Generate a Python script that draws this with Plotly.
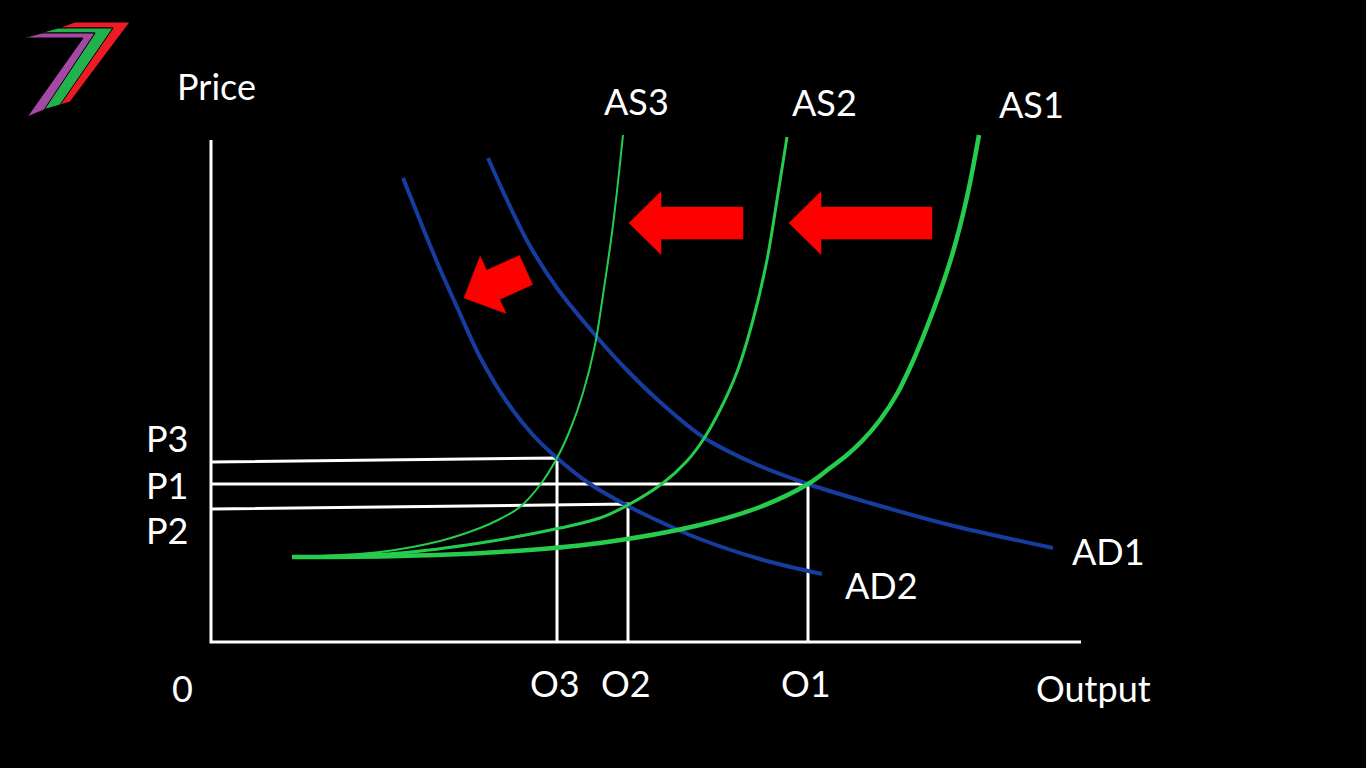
import plotly.graph_objects as go
import math

# ---------------- data (output units, price units) ----------------
as1_x = [8.1, 18.9, 28.9, 38.9, 48.9, 54.9, 59.7, 61.9, 63.6, 65.2, 66.9, 68.6, 70.2, 71.6, 72.9, 74.2, 75.6, 76.8]
as1_y = [8.5, 8.6, 9.0, 9.9, 11.7, 13.5, 15.8, 17.4, 18.7, 20.2, 22.2, 24.8, 28.1, 31.5, 35.0, 39.0, 44.5, 50.7]

as2_x = [8.1, 18.9, 26.9, 34.9, 38.9, 41.7, 45.2, 47.6, 49.2, 50.9, 52.6, 54.2, 55.6, 56.6, 57.6]
as2_y = [8.5, 8.9, 9.9, 11.4, 12.4, 13.7, 15.9, 18.1, 20.2, 23.2, 27.0, 32.2, 38.2, 44.2, 50.5]

as3_x = [8.1, 16.9, 22.9, 26.9, 28.9, 30.9, 32.9, 34.6, 35.9, 37.2, 38.4, 39.2, 40.2, 41.2]
as3_y = [8.5, 9.0, 10.1, 11.4, 12.3, 13.5, 15.7, 18.4, 21.2, 24.9, 29.7, 34.7, 41.7, 50.7]

ad1_x = [27.7, 29.6, 31.9, 34.6, 37.9, 41.2, 44.9, 49.2, 54.2, 59.7, 65.9, 73.9, 84.2]
ad1_y = [48.4, 44.2, 39.6, 35.4, 31.3, 27.6, 24.0, 20.5, 17.9, 15.8, 13.9, 11.7, 9.4]

ad2_x = [19.2, 21.2, 22.9, 24.6, 26.9, 29.6, 32.2, 34.6, 37.9, 41.7, 43.9, 48.9, 54.9, 61.1]
ad2_y = [46.4, 41.4, 37.3, 33.5, 28.5, 24.0, 20.7, 18.4, 15.8, 13.6, 12.5, 10.3, 8.3, 6.8]

# equilibria: output, price at the curve, price where the guide meets the price axis
eq_output = [34.6, 41.7, 59.7]
eq_price = [18.4, 13.8, 15.8]
eq_price_axis = [18.0, 13.3, 15.8]
eq_output_labels = ["O3", "O2", "O1"]
eq_price_labels = ["P3", "P2", "P1"]

axis_x_max = 87.0
axis_y_max = 50.2

# shift arrows: (tail x, tail y, tip x, tip y)
arrows = [
    (72.1, 41.9, 57.8, 41.9),
    (53.2, 41.9, 41.8, 41.9),
    (31.5, 37.2, 25.3, 34.4),
]

# ---------------- styling ----------------
GREEN = "#26cd4d"
BLUE = "#163c9e"
RED = "#ff0000"
WHITE = "#ffffff"
FONT = "Lato"
FS = 36

fig = go.Figure()

def line(x, y, color, width):
    fig.add_trace(go.Scatter(x=x, y=y, mode="lines",
                             line=dict(color=color, width=width, shape="spline", smoothing=1.0),
                             hoverinfo="skip", showlegend=False))

# guide lines
for ox, py, pa in zip(eq_output, eq_price, eq_price_axis):
    fig.add_trace(go.Scatter(x=[0, ox, ox], y=[pa, py, 0], mode="lines",
                             line=dict(color=WHITE, width=3), hoverinfo="skip", showlegend=False))

# axes
fig.add_trace(go.Scatter(x=[0, 0, axis_x_max], y=[axis_y_max, 0, 0], mode="lines",
                         line=dict(color=WHITE, width=3), hoverinfo="skip", showlegend=False))

line(ad1_x, ad1_y, BLUE, 4)
line(ad2_x, ad2_y, BLUE, 4)
line(as1_x, as1_y, GREEN, 4.5)
line(as2_x, as2_y, GREEN, 3)
line(as3_x, as3_y, GREEN, 2)

# arrows
SHAFT = 1.6
HEAD_W = 3.15
HEAD_L = 3.2
for tx, ty, hx, hy in arrows:
    dx, dy = hx - tx, hy - ty
    L = math.hypot(dx, dy)
    ux, uy = dx / L, dy / L
    nx, ny = -uy, ux
    bx, by = hx - ux * HEAD_L, hy - uy * HEAD_L
    px = [tx + nx * SHAFT, bx + nx * SHAFT, bx + nx * HEAD_W, hx,
          bx - nx * HEAD_W, bx - nx * SHAFT, tx - nx * SHAFT, tx + nx * SHAFT]
    py = [ty + ny * SHAFT, by + ny * SHAFT, by + ny * HEAD_W, hy,
          by - ny * HEAD_W, by - ny * SHAFT, ty - ny * SHAFT, ty + ny * SHAFT]
    fig.add_trace(go.Scatter(x=px, y=py, mode="lines", fill="toself", fillcolor=RED,
                             line=dict(color=RED, width=0.5), hoverinfo="skip", showlegend=False))

# logo (decorative), pixel space converted to data space
def P(x, y):
    return ((x - 211) / 10, (642 - y) / 10)

logo = [
    ("#ed1c24", [(58, 28), (75, 22), (130, 22), (70, 102), (57, 106), (113, 28)]),
    ("#22b14c", [(40, 33), (58, 28), (113, 28), (60, 105), (43, 110), (95, 33)]),
    ("#a349a4", [(23, 38), (42, 33), (95, 33), (44, 110), (27, 117), (83, 38)]),
]
for col, pts in logo:
    xs = [P(*p)[0] for p in pts] + [P(*pts[0])[0]]
    ys = [P(*p)[1] for p in pts] + [P(*pts[0])[1]]
    fig.add_trace(go.Scatter(x=xs, y=ys, mode="lines", fill="toself", fillcolor=col,
                             line=dict(color="#000000", width=1), hoverinfo="skip", showlegend=False))

# text labels
labels = [
    ("Price", 0.5, 55.6),
    ("AS3", 42.5, 54.1),
    ("AS2", 61.3, 54.0),
    ("AS1", 82.0, 53.8),
    ("AD1", 89.7, 9.1),
    ("AD2", 67.0, 5.7),
    ("0", -2.9, -4.6),
    ("Output", 88.2, -4.6),
]
for lab, ox in zip(eq_output_labels, eq_output):
    labels.append((lab, ox - 0.2, -4.1))
p_label_y = {"P3": 20.4, "P1": 15.7, "P2": 11.2}
for lab in eq_price_labels:
    labels.append((lab, -4.4, p_label_y[lab]))

for t, x, y in labels:
    fig.add_annotation(x=x, y=y, text=t, showarrow=False,
                       font=dict(family=FONT, size=FS, color=WHITE),
                       xanchor="center", yanchor="middle")

fig.update_layout(
    width=1366, height=768,
    margin=dict(l=0, r=0, t=0, b=0),
    paper_bgcolor="black", plot_bgcolor="black",
    xaxis=dict(range=[-21.1, 115.5], visible=False, fixedrange=True),
    yaxis=dict(range=[-12.6, 64.2], visible=False, fixedrange=True),
    showlegend=False,
)

fig.write_html("out.html", post_script="document.body.style.margin='0';",
               config={"displayModeBar": False})
